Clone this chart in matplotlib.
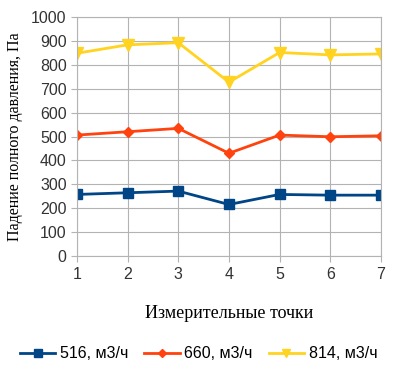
import matplotlib
matplotlib.use('Agg')
import matplotlib.pyplot as plt

points = [1, 2, 3, 4, 5, 6, 7]
q516 = [258, 265, 272, 216, 258, 255, 255]
q660 = [506, 520, 534, 430, 506, 499, 503]
q814 = [848, 883, 892, 727, 851, 841, 845]
labels = ['516, м3/ч', '660, м3/ч', '814, м3/ч']

fig = plt.figure(figsize=(4.14, 3.66), dpi=100)
ax = fig.add_axes([0.186, 0.300, 0.734, 0.654])

ax.plot(points, q516, color='#004586', marker='s', markersize=7, linewidth=2, label=labels[0])
ax.plot(points, q660, color='#ff420e', marker='D', markersize=5.5, linewidth=2, label=labels[1])
ax.plot(points, q814, color='#ffd320', marker='v', markersize=8, linewidth=2, label=labels[2])

ax.set_xlim(1, 7)
ax.set_ylim(0, 1000)
ax.set_xticks(points)
ax.set_yticks(range(0, 1001, 100))
ax.grid(True, color='#b3b3b3', linewidth=0.8)
ax.set_axisbelow(True)
for s in ax.spines.values():
    s.set_color('#b3b3b3')
ax.tick_params(colors='#b3b3b3', labelcolor='#333333', labelsize=11.5, length=4)
for t in ax.get_xticklabels() + ax.get_yticklabels():
    t.set_family('Liberation Sans')

ax.set_xlabel('Измерительные точки', family='Liberation Serif', fontsize=13, labelpad=17)
ax.set_ylabel('Падение полного давления, Па', family='Liberation Serif', fontsize=11.5, labelpad=6)

leg = fig.legend(loc='center', bbox_to_anchor=(0.48, 0.033), ncol=3, frameon=False,
                 prop={'family': 'Liberation Sans', 'size': 11.5}, handlelength=2.2,
                 columnspacing=1.0, handletextpad=0.3)
for h, ms in zip(leg.legend_handles, [6, 4, 6]):
    h.set_markersize(ms)

plt.savefig('out.png', dpi=100)
